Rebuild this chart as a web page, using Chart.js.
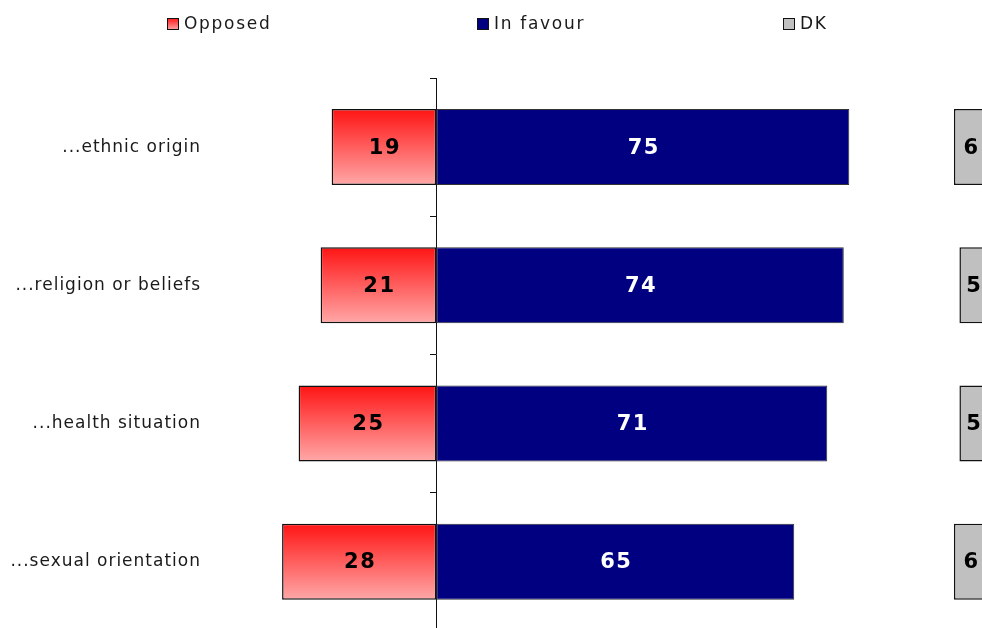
<!DOCTYPE html>
<html>
<head>
<meta charset="utf-8">
<script src="https://cdn.jsdelivr.net/npm/chart.js@4.4.1/dist/chart.umd.min.js"></script>
<style>
  html, body { margin: 0; padding: 0; background: #fff; overflow: hidden; }
  canvas { display: block; }
</style>
</head>
<body>
<canvas id="chart" width="982" height="656"></canvas>
<script>
/* ---- Data ---- */
const categories = ["...ethnic origin", "...religion or beliefs", "...health situation", "...sexual orientation"];
const opposed = [19, 21, 25, 28];
const inFavour = [75, 74, 71, 65];
const dontKnow = [6, 5, 5, 6];
const seriesNames = ["Opposed", "In favour", "DK"];
const total = 100;

/* ---- Style tokens ---- */
const FONT = "'DejaVu Sans', Verdana, sans-serif";
const TEXT = "#1a1a1a";
const EDGE = "#111";
const NAVY = "#000080";
const GREY = "#c0c0c0";
const BAR_PCT = 0.55;
const legendX = [167, 477, 783];

const redGradient = (ctx, top, bottom) => {
  const g = ctx.createLinearGradient(0, top, 0, bottom);
  g.addColorStop(0, "#ff1414");
  g.addColorStop(1, "#ffa8a8");
  return g;
};

const opposedFill = (c) => {
  const y = c.chart.scales.y;
  if (!y || c.dataIndex === undefined) return "#ff6060";
  const step = y.getPixelForValue(1) - y.getPixelForValue(0);
  const mid = y.getPixelForValue(c.dataIndex);
  if (!Number.isFinite(step) || !Number.isFinite(mid)) return "#ff6060";
  const half = (step * BAR_PCT) / 2;
  return redGradient(c.chart.ctx, mid - half, mid + half);
};

/* ---- Plugins ---- */
const spacing = {
  id: "spacing",
  beforeDraw(chart) {
    chart.ctx.letterSpacing = "1px";
  },
};

const valueLabels = {
  id: "valueLabels",
  afterDatasetsDraw(chart) {
    const { ctx } = chart;
    const sources = [opposed, inFavour, dontKnow];
    const colours = ["#000", "#fff", "#000"];
    ctx.save();
    ctx.letterSpacing = "1.5px";
    ctx.font = "bold 21px " + FONT;
    ctx.textAlign = "center";
    ctx.textBaseline = "middle";
    chart.data.datasets.forEach((ds, di) => {
      chart.getDatasetMeta(di).data.forEach((bar, i) => {
        const p = bar.getCenterPoint();
        ctx.fillStyle = colours[di];
        ctx.fillText(String(sources[di][i]), p.x + 1, p.y + 1);
      });
    });
    ctx.restore();
  },
};

const topLegend = {
  id: "topLegend",
  afterDraw(chart) {
    const { ctx } = chart;
    const fills = [redGradient(ctx, 18, 30), NAVY, GREY];
    ctx.save();
    ctx.letterSpacing = "1.7px";
    ctx.font = "17px " + FONT;
    ctx.textBaseline = "middle";
    ctx.textAlign = "left";
    seriesNames.forEach((name, i) => {
      const x = legendX[i];
      ctx.fillStyle = fills[i];
      ctx.fillRect(x, 18, 12, 12);
      ctx.strokeStyle = EDGE;
      ctx.lineWidth = 1;
      ctx.strokeRect(x + 0.5, 18.5, 11, 11);
      ctx.fillStyle = TEXT;
      ctx.fillText(name, x + 17, 25);
    });
    ctx.restore();
  },
};

/* ---- Chart ---- */
const barCommon = {
  grouped: false,
  barPercentage: BAR_PCT,
  categoryPercentage: 1,
  borderWidth: 1.5,
  borderColor: EDGE,
  borderSkipped: false,
};

new Chart(document.getElementById("chart"), {
  type: "bar",
  data: {
    labels: categories,
    datasets: [
      { ...barCommon, label: seriesNames[0], data: opposed.map((v) => [-v, 0]), backgroundColor: opposedFill },
      { ...barCommon, label: seriesNames[1], data: inFavour.map((v) => [0, v]), backgroundColor: NAVY, borderWidth: 1, borderColor: "#333" },
      { ...barCommon, label: seriesNames[2], data: dontKnow.map((v) => [total - v, total]), backgroundColor: GREY },
    ],
  },
  options: {
    indexAxis: "y",
    responsive: false,
    animation: false,
    devicePixelRatio: 1,
    layout: { padding: { top: 78, bottom: 10, left: 0, right: 0 } },
    plugins: {
      legend: { display: false },
      tooltip: { enabled: false },
    },
    scales: {
      x: { display: false, min: -40, max: 99.1 },
      y: {
        grid: { display: false, drawTicks: false },
        border: { display: false },
        ticks: { color: TEXT, padding: 15, font: { family: FONT, size: 17 } },
        afterFit: (s) => { s.width = 216; },
      },
      y2: {
        type: "category",
        axis: "y",
        position: { x: 0 },
        offset: true,
        grid: { offset: true, drawOnChartArea: false, drawTicks: true, tickLength: 6, color: EDGE, lineWidth: 1 },
        border: { display: true, color: EDGE, width: 1 },
        ticks: { display: false },
      },
    },
  },
  plugins: [spacing, valueLabels, topLegend],
});
</script>
</body>
</html>
